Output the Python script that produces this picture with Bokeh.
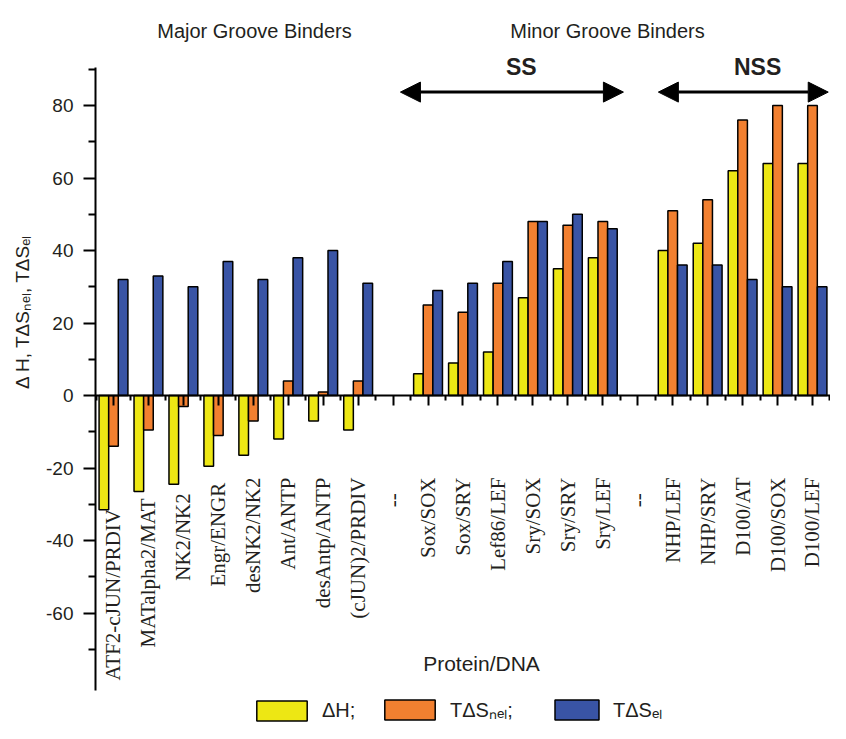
import math
from bokeh.plotting import figure
from bokeh.models import (ColumnDataSource, Range1d, LinearAxis, FixedTicker, Label,
                          Legend, LegendItem, Arrow, NormalHead)
from bokeh.transform import dodge
from bokeh.embed import file_html
from bokeh.resources import INLINE

nan = float("nan")
categories = ["ATF2-cJUN/PRDIV", "MATalpha2/MAT", "NK2/NK2", "Engr/ENGR", "desNK2/NK2",
              "Ant/ANTP", "desAntp/ANTP", "(cJUN)2/PRDIV", "--",
              "Sox/SOX", "Sox/SRY", "Lef86/LEF", "Sry/SOX", "Sry/SRY", "Sry/LEF", "--",
              "NHP/LEF", "NHP/SRY", "D100/AT", "D100/SOX", "D100/LEF"]
delta_h = [-31.5, -26.5, -24.5, -19.5, -16.5, -12, -7, -9.5, nan,
           6, 9, 12, 27, 35, 38, nan, 40, 42, 62, 64, 64]
t_ds_nel = [-14, -9.5, -3, -11, -7, 4, 1, 4, nan,
            25, 23, 31, 48, 47, 48, nan, 51, 54, 76, 80, 80]
t_ds_el = [32, 33, 30, 37, 32, 38, 40, 31, nan,
           29, 31, 37, 48, 50, 46, nan, 36, 36, 32, 30, 30]
y_ticks = [-60, -40, -20, 0, 20, 40, 60, 80]
y_tick_labels = ["-60", "-40", "-20", "0", "20", "40", "60", "80"]
y_minor_ticks = [-70, -50, -30, -10, 10, 30, 50, 70, 90]

# how far (in non-breaking spaces) each rotated tick label sits below the common line
label_shift = [6, 4, 3, 1, 0, 0, 0, 0, 3, 0, 0, 0, 0, 0, 0, 3, 0, 0, 0, 0, 0]

YELLOW = "#EDE714"
ORANGE = "#F28030"
BLUE = "#3954A5"
TXT = "#231F20"
SANS = "Liberation Sans"
SERIF = "Liberation Serif"

W, H = 830, 723
xs = list(range(len(categories)))
src = ColumnDataSource(dict(x=xs, dh=delta_h, nel=t_ds_nel, el=t_ds_el))

# frame covers the whole canvas; axes sit at fixed locations with bounds
p = figure(width=W, height=H, output_backend="svg", toolbar_location=None,
           x_range=Range1d(-3.233, 20.515), y_range=Range1d(-90.48, 108.97),
           x_axis_location=None, y_axis_location=None,
           min_border_left=0, min_border_right=0, min_border_top=0, min_border_bottom=0)
p.outline_line_color = None
p.grid.visible = False
p.background_fill_color = "white"

bw = 0.275
r_dh = p.vbar(x=dodge("x", -bw, range=p.x_range), top="dh", bottom=0, width=bw, source=src,
              fill_color=YELLOW, line_color="black", line_width=1.5)
r_nel = p.vbar(x="x", top="nel", bottom=0, width=bw, source=src,
               fill_color=ORANGE, line_color="black", line_width=1.5)
r_el = p.vbar(x=dodge("x", bw, range=p.x_range), top="el", bottom=0, width=bw, source=src,
              fill_color=BLUE, line_color="black", line_width=1.5)

# x axis at y = 0
xaxis = LinearAxis(fixed_location=0, bounds=(-0.515, 20.515),
                   ticker=FixedTicker(ticks=xs, minor_ticks=[i - 0.5 for i in range(len(xs) + 1)]),
                   major_label_overrides={i: c + "\u00a0" * s
                                          for i, (c, s) in enumerate(zip(categories, label_shift))})
xaxis.major_label_orientation = math.pi / 2
xaxis.axis_line_width = 2
xaxis.major_tick_line_width = 2
xaxis.minor_tick_line_width = 2
xaxis.major_tick_out = 10
xaxis.major_tick_in = 0
xaxis.minor_tick_out = 5
xaxis.minor_tick_in = 0
xaxis.major_label_standoff = 72
xaxis.major_label_text_font = SERIF
xaxis.major_label_text_font_size = "21px"
xaxis.major_label_text_color = TXT
p.add_layout(xaxis, "below")

ya = LinearAxis(fixed_location=-0.515, bounds=(-81.4, 90.5),
                ticker=FixedTicker(ticks=y_ticks, minor_ticks=y_minor_ticks),
                major_label_overrides=dict(zip(y_ticks, y_tick_labels)))
ya.axis_line_width = 2
ya.major_tick_line_width = 2
ya.minor_tick_line_width = 2
ya.major_tick_out = 12
ya.major_tick_in = 0
ya.minor_tick_out = 7
ya.minor_tick_in = 0
ya.major_label_standoff = 10
ya.major_label_text_font = SANS
ya.major_label_text_font_size = "19px"
ya.major_label_text_color = TXT
p.add_layout(ya, "left")

def lab(text, x, y, units="screen", size="20px", bold=False, angle=0.0):
    p.add_layout(Label(x=x, y=y, x_units=units, y_units=units, text=text,
                       text_align="center", text_baseline="middle", angle=angle,
                       text_font=SANS, text_font_size=size, text_color=TXT,
                       text_font_style="bold" if bold else "normal"))

# screen units: x from left, y from bottom of the canvas
lab("Major Groove Binders", 254, H - 30)
lab("Minor Groove Binders", 607, H - 30)
lab("Δ H, TΔSₙₑₗ, TΔSₑₗ", 22, H - 311, size="19px", angle=math.pi / 2)
lab("Protein/DNA", 10.53, -73.9, units="data", size="21px")
lab("SS", 11.67, 90.5, units="data", size="23px", bold=True)
lab("NSS", 18.43, 90.5, units="data", size="23px", bold=True)

for x0, x1 in [(8.21, 14.59), (15.59, 20.45)]:
    p.add_layout(Arrow(x_start=x0, y_start=83.7, x_end=x1, y_end=83.7, line_width=3,
                       line_color="black",
                       start=NormalHead(size=20, fill_color="black", line_color="black"),
                       end=NormalHead(size=20, fill_color="black", line_color="black")))

for rend, text, loc, gw in [(r_dh, "ΔH;", (250, 0), 63),
                            (r_nel, "TΔSₙₑₗ;", (378, 0), 63),
                            (r_el, "TΔSₑₗ", (549, 0), 55)]:
    lg = Legend(items=[LegendItem(label=text, renderers=[rend])], location=loc,
                glyph_width=gw, glyph_height=25, label_standoff=9,
                label_text_font=SANS, label_text_font_size="20px", label_text_color=TXT,
                padding=0, margin=0, border_line_color=None, background_fill_alpha=0)
    p.add_layout(lg)

open("out.html", "w").write(file_html(p, INLINE))
